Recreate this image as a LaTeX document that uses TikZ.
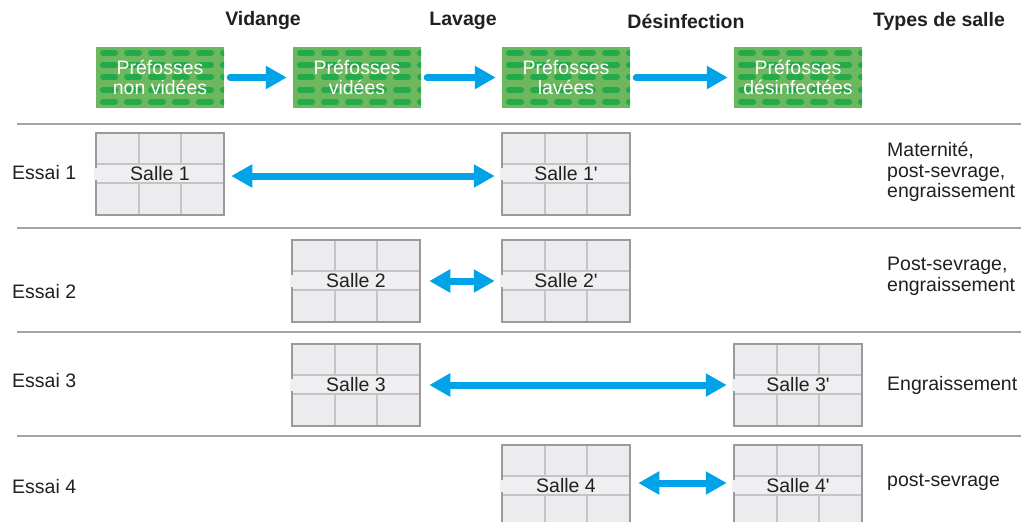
\documentclass[tikz,border=0pt]{standalone}
\usepackage{fontspec}
\setmainfont{Liberation Sans}[Ligatures=TeXOff]
\usetikzlibrary{arrows.meta,calc}
\definecolor{txt}{HTML}{231F20}
\definecolor{cyanarrow}{HTML}{00A3E8}
\definecolor{gbg}{HTML}{6DB75E}
\definecolor{gdash}{HTML}{22AA4B}
\definecolor{roomfill}{HTML}{ECECEE}
\definecolor{roomborder}{HTML}{9A9A9C}
\definecolor{gridc}{HTML}{C4C4C6}
\definecolor{bandc}{HTML}{EFEFF1}
\definecolor{sepc}{HTML}{A3A3A5}
\begin{document}
\begin{tikzpicture}[x=1pt,y=-1pt,
  font=\fontsize{19.5}{20.5}\selectfont, text=txt,
  prefosse/.style={minimum width=128pt, minimum height=61pt, inner sep=0pt,
    fill=gbg, text=white, align=center,
    path picture={\foreach \r in {6,18,30,43,55}{
      \draw[gdash, line width=6pt, line cap=round, dash pattern=on 12pt off 12pt]
        ([shift={(7,\r)}]path picture bounding box.north west) --
        ([shift={(0,\r)}]path picture bounding box.north east);}}},
  room/.style={draw=roomborder, line width=2.5pt, fill=roomfill,
    minimum width=128pt, minimum height=82pt, inner sep=0pt,
    path picture={
      \fill[bandc] ([shift={(0,31)}]path picture bounding box.north west) rectangle
                   ([shift={(0,50)}]path picture bounding box.north east);
      \draw[gridc, line width=2pt]
        ([shift={(0,31)}]path picture bounding box.north west) --
        ([shift={(0,31)}]path picture bounding box.north east)
        ([shift={(0,50)}]path picture bounding box.north west) --
        ([shift={(0,50)}]path picture bounding box.north east)
        ([shift={(42.67,0)}]path picture bounding box.north west) -- ++(0,31)
        ([shift={(85.33,0)}]path picture bounding box.north west) -- ++(0,31)
        ([shift={(42.67,50)}]path picture bounding box.north west) -- ++(0,40)
        ([shift={(85.33,50)}]path picture bounding box.north west) -- ++(0,40);}},
  gap/.style={fill=bandc},
  flow/.style={draw=cyanarrow, line width=7pt, line cap=round,
    -{Triangle[length=21pt,width=22pt]}},
  both/.style={draw=cyanarrow, line width=7pt,
    {Triangle[length=21pt,width=22pt]}-{Triangle[length=21pt,width=22pt]}},
  sep/.style={draw=sepc, line width=2.5pt},
  head/.style={font=\fontsize{19.5}{20.5}\selectfont\bfseries},
  essai/.style={anchor=west, inner sep=0pt},
  types/.style={anchor=west, inner sep=0pt, align=left}
]
\clip (0,0) rectangle (1021,522);

% headers
\node[head] (hv) at (263,21) {Vidange};
\node[head] (hl) at (463,21) {Lavage};
\node[head] (hd) at (686,21) {Désinfection};
\node[head] (ht) at (939,21) {Types de salle};

% prefosses
\node[prefosse] (p1) at (160,77.5) {Préfosses\\non vidées};
\node[prefosse] (p2) at (357,77.5) {Préfosses\\vidées};
\node[prefosse] (p3) at (566,77.5) {Préfosses\\lavées};
\node[prefosse] (p4) at (798,77.5) {Préfosses\\désinfectées};
\draw[flow] ([xshift=6pt]p1.east) -- ([xshift=-6pt]p2.west);
\draw[flow] ([xshift=6pt]p2.east) -- ([xshift=-6pt]p3.west);
\draw[flow] ([xshift=6pt]p3.east) -- ([xshift=-6pt]p4.west);

% separators
\draw[sep] (17,124) -- (1021,124);
\draw[sep] (17,228) -- (1021,228);
\draw[sep] (17,332) -- (1021,332);
\draw[sep] (17,436) -- (1021,436);

% essai labels
\node[essai] (e1) at (12,173) {Essai 1};
\node[essai] (e2) at (12,292) {Essai 2};
\node[essai] (e3) at (12,381) {Essai 3};
\node[essai] (e4) at (12,487) {Essai 4};

% types
\node[types] (t1) at (887,172) {Maternité,\\post-sevrage,\\engraissement};
\node[types] (t2) at (887,276.5) {Post-sevrage,\\engraissement};
\node[types] (t3) at (887,385) {Engraissement};
\node[types] (t4) at (887,482) {post-sevrage};

% rooms
\node[room] (s1) at (160,174) {Salle 1};
\node[room] (s1p) at (566,174) {Salle 1'};
\node[room] (s2) at (356,281) {Salle 2};
\node[room] (s2p) at (566,281) {Salle 2'};
\node[room] (s3) at (356,385) {Salle 3};
\node[room] (s3p) at (798,385) {Salle 3'};
\node[room] (s4) at (566,486) {Salle 4};
\node[room] (s4p) at (798,486) {\raisebox{-3pt}{Salle 4'}};
\foreach \n in {s1,s1p,s2,s2p,s3,s3p,s4,s4p}{
  \fill[gap] ([shift={(-1,-6)}]\n.west) rectangle ([shift={(3.5,6)}]\n.west);}

% room arrows
\draw[both] ([xshift=6pt,yshift=-2pt]s1.east) -- ([xshift=-6pt,yshift=-2pt]s1p.west);
\draw[both] ([xshift=8pt]s2.east) -- ([xshift=-6pt]s2p.west);
\draw[both] ([xshift=8pt]s3.east) -- ([xshift=-6pt]s3p.west);
\draw[both] ([xshift=7pt,yshift=3pt]s4.east) -- ([xshift=-6pt,yshift=3pt]s4p.west);
\end{tikzpicture}
\end{document}
